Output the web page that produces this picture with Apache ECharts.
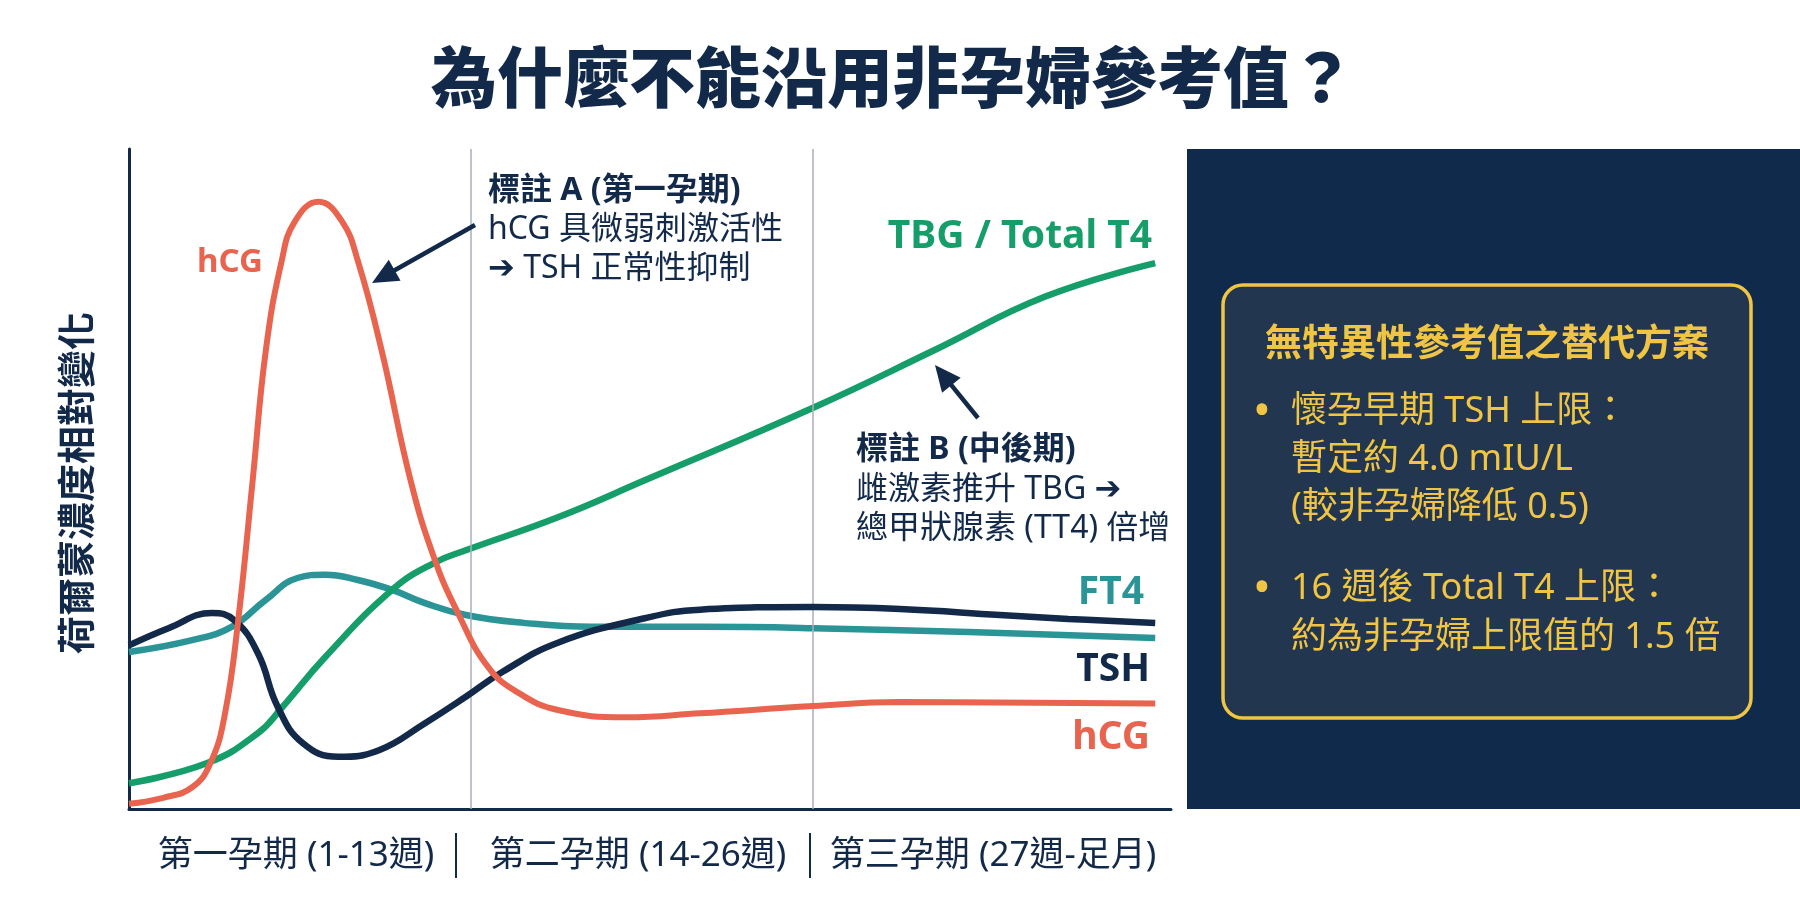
<!DOCTYPE html>
<html>
<head>
<meta charset="utf-8">
<script src="https://cdn.jsdelivr.net/npm/echarts/dist/echarts.min.js"></script>
<style>
html,body{margin:0;padding:0;background:#ffffff;}
#chart{width:1800px;height:919px;}
</style>
</head>
<body>
<div id="chart"></div>
<script>
// ---------- data ----------
const trimesterLabels = ['第一孕期 (1-13週)', '第二孕期 (14-26週)', '第三孕期 (27週-足月)'];
const trimesterBounds = [13, 26];

const hcgWeeks  = [0, 1.3, 2.4, 3.1, 3.65, 4.15, 4.7, 5.2, 5.8, 6.3, 7.2, 8.1, 8.7, 9.6, 10.7, 11.6, 12.5, 13.65, 14.8, 16.3, 18.9, 21.7, 26, 29.3, 39];
const hcgValues = [0.8, 1.7, 3.3, 7, 14.5, 28.6, 49.8, 69.5, 83, 89, 92, 89, 83, 69.5, 49.8, 38, 29.7, 21.5, 17.6, 15, 13.9, 14.5, 15.6, 16.2, 16];

const tshWeeks  = [0, 1.5, 3.15, 4, 4.9, 5.65, 6.6, 7.95, 9.5, 11.25, 12.8, 14.2, 16.3, 19.6, 21.7, 26, 29.3, 33.1, 35.7, 39];
const tshValues = [24.8, 27.4, 29.7, 28.6, 23.6, 15.5, 10, 7.9, 8.9, 13, 17, 20.8, 25.2, 28.9, 30.2, 30.6, 30.3, 29.4, 28.8, 28.2];

const ft4Weeks  = [0, 2.4, 3.9, 5.2, 6.4, 7.45, 8.7, 10, 11.25, 12.8, 15, 17.6, 21.7, 26, 31.9, 39];
const ft4Values = [23.8, 25.6, 27.6, 31.7, 35, 35.5, 34.7, 33.2, 31.2, 29.4, 28.2, 27.6, 27.6, 27.4, 26.8, 25.9];

const tbgWeeks  = [0, 3, 4.9, 5.8, 7.45, 10, 11.6, 12.8, 16.3, 19.6, 26, 30.6, 34.8, 39];
const tbgValues = [3.9, 7, 11.5, 15.3, 23, 33.2, 37.3, 39.2, 44.2, 49.8, 60.8, 69.5, 77.6, 82.7];

// ---------- styles ----------
const NAVY = '#12294A';
const RED = '#E8644E';
const TEAL = '#2B9497';
const GREEN = '#159E69';
const GOLD = '#F1C544';
const FONT = "'Noto Sans', 'Noto Sans CJK TC', 'DejaVu Sans', sans-serif";
const CJK = "'Noto Sans CJK TC', 'Noto Sans', sans-serif";

function pairs(w, v) { return w.map((x, i) => [x, v[i]]); }

function txt(x, y, text, size, color, weight, align, family) {
  return {
    type: 'text', x: x, y: y, silent: true, z: 20,
    style: {
      text: text, fontSize: size, fontWeight: weight || 'normal',
      fontFamily: family || FONT, fill: color,
      textAlign: align || 'left', align: align || 'left',
      textVerticalAlign: 'middle', verticalAlign: 'middle'
    }
  };
}

function arrow(x1, y1, x2, y2) {
  const dx = x2 - x1, dy = y2 - y1, L = Math.sqrt(dx * dx + dy * dy);
  const ux = dx / L, uy = dy / L, nx = -uy, ny = ux;
  const hl = 26, hw = 12;
  const bx = x2 - ux * hl, by = y2 - uy * hl;
  return [
    { type: 'line', silent: true, z: 20, shape: { x1: x1, y1: y1, x2: bx + ux * 2, y2: by + uy * 2 }, style: { stroke: NAVY, lineWidth: 4.5 } },
    { type: 'polygon', silent: true, z: 20, shape: { points: [[x2, y2], [bx + nx * hw, by + ny * hw], [bx - nx * hw, by - ny * hw]] }, style: { fill: NAVY } }
  ];
}

const chart = echarts.init(document.getElementById('chart'), null, { renderer: 'canvas' });

// trimester label centres (pixel) and separators below the axis
const labelCentres = [296, 638, 993];
const separatorX = [456, 810];

const graphics = [
  // right dark panel
  { type: 'rect', silent: true, z: 1, shape: { x: 1187, y: 149, width: 613, height: 660 }, style: { fill: '#0F2A4B' } },
  { type: 'rect', silent: true, z: 2, shape: { x: 1223, y: 285, width: 528, height: 433, r: 20 }, style: { fill: '#233650', stroke: GOLD, lineWidth: 3.5 } },
  txt(1487, 342, '無特異性參考值之替代方案', 37, GOLD, 'bold', 'center', CJK),
  txt(1262, 412, '•', 38, GOLD, 'bold', 'center'),
  txt(1291, 412, '懷孕早期 TSH 上限：', 36, GOLD),
  txt(1291, 460, '暫定約 4.0 mIU/L', 36, GOLD),
  txt(1291, 508, '(較非孕婦降低 0.5)', 36, GOLD),
  txt(1262, 589, '•', 38, GOLD, 'bold', 'center'),
  txt(1291, 589, '16 週後 Total T4 上限：', 36, GOLD),
  txt(1291, 638, '約為非孕婦上限值的 1.5 倍', 36, GOLD),

  // y axis name
  Object.assign(txt(76, 483, '荷爾蒙濃度相對變化', 38, NAVY, 'bold', 'center', CJK), { rotation: Math.PI / 2 }),

  // series labels
  txt(230, 263, 'hCG', 33, RED, 'bold', 'center'),
  txt(1152, 237, 'TBG / Total T4', 39, GREEN, 'bold', 'right'),
  txt(1144, 593, 'FT4', 39, TEAL, 'bold', 'right'),
  txt(1150, 670, 'TSH', 39, NAVY, 'bold', 'right'),
  txt(1150, 738, 'hCG', 39, RED, 'bold', 'right'),

  // annotation A
  txt(488, 191, '標註 A (第一孕期)', 32, NAVY, 'bold'),
  txt(488, 230, 'hCG 具微弱刺激活性', 32, NAVY),
  txt(488, 269, '➔ TSH 正常性抑制', 32, NAVY),
  // annotation B
  txt(856, 450, '標註 B (中後期)', 32, NAVY, 'bold'),
  txt(856, 490, '雌激素推升 TBG ➔', 32, NAVY),
  txt(856, 529, '總甲狀腺素 (TT4) 倍增', 32, NAVY)
]
  .concat(trimesterLabels.map((t, i) => txt(labelCentres[i], 856, t, 35, NAVY, 'normal', 'center')))
  .concat(separatorX.map(x => ({ type: 'line', silent: true, z: 20, shape: { x1: x, y1: 833, x2: x, y2: 878 }, style: { stroke: NAVY, lineWidth: 2 } })))
  .concat(arrow(475, 225, 372, 283), arrow(978, 418, 935, 365));

const lineBase = { type: 'line', showSymbol: false, symbol: 'none', smooth: 0.45, silent: true };

chart.setOption({
  animation: false,
  backgroundColor: '#ffffff',
  title: {
    text: '為什麼不能沿用非孕婦參考值？',
    left: 893, top: 44, textAlign: 'center', padding: 0,
    textStyle: { fontSize: 66, fontWeight: 900, color: NAVY, fontFamily: CJK }
  },
  grid: { left: 129, right: 629, top: 149, bottom: 110, containLabel: false },
  xAxis: {
    type: 'value', min: 0, max: 39.6,
    axisLine: { show: true, lineStyle: { color: NAVY, width: 3 } },
    axisTick: { show: false }, axisLabel: { show: false }, splitLine: { show: false }
  },
  yAxis: {
    type: 'value', min: 0, max: 100,
    axisLine: { show: true, lineStyle: { color: NAVY, width: 3 } },
    axisTick: { show: false }, axisLabel: { show: false }, splitLine: { show: false }
  },
  series: [
    Object.assign({}, lineBase, {
      name: 'FT4', data: pairs(ft4Weeks, ft4Values), z: 3,
      lineStyle: { color: TEAL, width: 6.5 },
      markLine: {
        silent: true, symbol: 'none', label: { show: false },
        lineStyle: { color: '#A9AFB7', width: 1.5, type: 'solid' },
        data: trimesterBounds.map(b => ({ xAxis: b }))
      }
    }),
    Object.assign({}, lineBase, { name: 'TBG / Total T4', data: pairs(tbgWeeks, tbgValues), z: 4, lineStyle: { color: GREEN, width: 6.5 } }),
    Object.assign({}, lineBase, { name: 'TSH', data: pairs(tshWeeks, tshValues), z: 5, lineStyle: { color: NAVY, width: 6.5 } }),
    Object.assign({}, lineBase, { name: 'hCG', data: pairs(hcgWeeks, hcgValues), z: 6, lineStyle: { color: RED, width: 6 } })
  ],
  graphic: graphics
});
</script>
</body>
</html>
